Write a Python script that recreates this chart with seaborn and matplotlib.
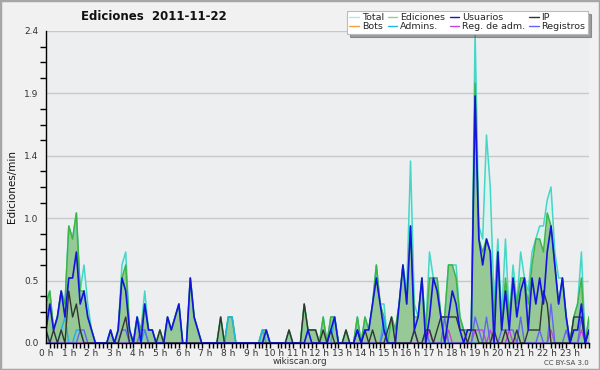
import numpy as np
import pandas as pd
import matplotlib
matplotlib.use("Agg")
import matplotlib.pyplot as plt
import seaborn as sns
from matplotlib.ticker import FixedLocator, MultipleLocator, FuncFormatter
from matplotlib.lines import Line2D
from matplotlib.patches import Rectangle

# ---- data: edits per minute, one value per 10-minute slot (144 slots) ----
hour_labels = [f"{h} h" for h in range(24)]

total = [
    0.3, 0.4, 0.1, 0.2, 0.4, 0.3,   # 0h
    0.9, 0.8, 1.0, 0.4, 0.6, 0.3,   # 1h
    0.1, 0, 0, 0, 0, 0.1,           # 2h
    0, 0.1, 0.6, 0.7, 0.1, 0,       # 3h
    0.2, 0.1, 0.4, 0.1, 0.1, 0,     # 4h
    0.1, 0, 0.2, 0.1, 0.2, 0.3,     # 5h
    0, 0, 0.5, 0.2, 0.1, 0,         # 6h
    0, 0, 0, 0, 0.2, 0,             # 7h
    0.2, 0.2, 0, 0, 0, 0,           # 8h
    0, 0, 0, 0.1, 0.1, 0,           # 9h
    0, 0, 0, 0, 0.1, 0,             # 10h
    0, 0, 0.3, 0.1, 0.1, 0.1,       # 11h
    0, 0.2, 0, 0.2, 0.2, 0,         # 12h
    0, 0.1, 0, 0, 0.2, 0,           # 13h
    0.2, 0.1, 0.3, 0.6, 0.3, 0.3,   # 14h
    0, 0.2, 0.1, 0.3, 0.6, 0.4,     # 15h
    1.4, 0.3, 0.2, 0.5, 0.1, 0.7,   # 16h
    0.5, 0.5, 0.2, 0.2, 0.6, 0.6,   # 17h
    0.6, 0.2, 0.1, 0.1, 0.1, 2.4,   # 18h
    0.9, 0.8, 1.6, 1.2, 0.3, 0.8,   # 19h
    0.2, 0.8, 0.2, 0.6, 0.3, 0.7,   # 20h
    0.5, 0.4, 0.7, 0.8, 0.9, 0.9,   # 21h
    1.1, 1.2, 0.7, 0.5, 0.5, 0.2,   # 22h
    0, 0.2, 0.3, 0.7, 0, 0.2,       # 23h
]

ediciones = [
    0.3, 0.4, 0.1, 0.2, 0.4, 0.3,
    0.9, 0.8, 1.0, 0.4, 0.4, 0.2,
    0.1, 0, 0, 0, 0, 0.1,
    0, 0.1, 0.5, 0.6, 0.1, 0,
    0.2, 0.1, 0.3, 0.1, 0.1, 0,
    0.1, 0, 0.2, 0.1, 0.2, 0.3,
    0, 0, 0.5, 0.2, 0.1, 0,
    0, 0, 0, 0, 0.2, 0,
    0.2, 0.2, 0, 0, 0, 0,
    0, 0, 0, 0.1, 0.1, 0,
    0, 0, 0, 0, 0.1, 0,
    0, 0, 0.3, 0.1, 0.1, 0.1,
    0, 0.2, 0, 0.2, 0.2, 0,
    0, 0.1, 0, 0, 0.2, 0,
    0.2, 0.1, 0.3, 0.6, 0.3, 0.2,
    0, 0.2, 0.1, 0.3, 0.6, 0.3,
    0.9, 0.2, 0.2, 0.5, 0.1, 0.5,
    0.5, 0.5, 0.2, 0.2, 0.6, 0.6,
    0.5, 0.2, 0.1, 0.1, 0.1, 2.0,
    0.8, 0.7, 0.8, 0.7, 0.2, 0.7,
    0.1, 0.5, 0.2, 0.5, 0.3, 0.5,
    0.5, 0.3, 0.6, 0.8, 0.8, 0.7,
    1.0, 0.9, 0.6, 0.3, 0.5, 0.2,
    0, 0.2, 0.3, 0.5, 0, 0.2,
]

usuarios = [
    0.1, 0.3, 0.1, 0.2, 0.4, 0.2,
    0.5, 0.5, 0.7, 0.3, 0.4, 0.2,
    0.1, 0, 0, 0, 0, 0.1,
    0, 0.1, 0.5, 0.4, 0.1, 0,
    0.2, 0, 0.3, 0.1, 0.1, 0,
    0, 0, 0.2, 0.1, 0.2, 0.3,
    0, 0, 0.5, 0.2, 0.1, 0,
    0, 0, 0, 0, 0, 0,
    0, 0, 0, 0, 0, 0,
    0, 0, 0, 0, 0.1, 0,
    0, 0, 0, 0, 0, 0,
    0, 0, 0, 0.1, 0, 0,
    0, 0, 0, 0.1, 0.2, 0,
    0, 0, 0, 0, 0.1, 0,
    0.1, 0.1, 0.3, 0.5, 0.3, 0.1,
    0, 0, 0, 0.3, 0.6, 0.3,
    0.9, 0.1, 0.2, 0.5, 0, 0.2,
    0.5, 0.4, 0.2, 0, 0.2, 0.4,
    0.3, 0.1, 0, 0.1, 0.1, 1.9,
    0.8, 0.6, 0.8, 0.7, 0, 0.7,
    0.1, 0.4, 0.1, 0.5, 0.2, 0.4,
    0.5, 0.1, 0.5, 0.3, 0.5, 0.3,
    0.7, 0.9, 0.6, 0.3, 0.5, 0.2,
    0, 0.1, 0.1, 0.3, 0, 0.1,
]

ip = [
    0.1, 0, 0.1, 0, 0.1, 0,
    0.4, 0.2, 0.3, 0.1, 0, 0,
    0, 0, 0, 0, 0, 0,
    0, 0, 0.1, 0.2, 0, 0,
    0, 0, 0, 0, 0, 0,
    0.1, 0, 0, 0, 0, 0,
    0, 0, 0, 0, 0, 0,
    0, 0, 0, 0, 0.2, 0,
    0, 0, 0, 0, 0, 0,
    0, 0, 0, 0, 0, 0,
    0, 0, 0, 0, 0.1, 0,
    0, 0, 0.3, 0.1, 0.1, 0.1,
    0, 0.1, 0, 0.1, 0, 0,
    0, 0.1, 0, 0, 0.1, 0,
    0.1, 0, 0.1, 0, 0, 0,
    0.1, 0.2, 0, 0, 0, 0,
    0, 0.1, 0, 0, 0.1, 0.1,
    0, 0.1, 0.2, 0.2, 0.2, 0.2,
    0.2, 0.1, 0.1, 0, 0.1, 0.1,
    0, 0, 0, 0, 0.1, 0,
    0, 0.1, 0, 0, 0.1, 0,
    0, 0.1, 0.1, 0.1, 0.1, 0.4,
    0.3, 0, 0, 0, 0, 0,
    0, 0.2, 0.2, 0.2, 0, 0.1,
]

registros = [
    0, 0, 0, 0, 0, 0,
    0, 0, 0, 0.1, 0.1, 0,
    0, 0, 0, 0, 0, 0,
    0, 0, 0.1, 0.1, 0, 0,
    0, 0.1, 0.1, 0, 0, 0,
    0, 0, 0, 0, 0, 0,
    0, 0, 0, 0, 0, 0,
    0, 0, 0, 0, 0, 0,
    0, 0, 0, 0, 0, 0,
    0, 0, 0, 0, 0, 0,
    0, 0, 0, 0, 0, 0,
    0, 0, 0, 0, 0, 0,
    0, 0, 0, 0, 0, 0,
    0, 0, 0, 0, 0, 0,
    0, 0, 0, 0, 0, 0.1,
    0, 0, 0, 0, 0, 0,
    0, 0.1, 0, 0, 0.1, 0,
    0, 0, 0, 0.2, 0, 0,
    0, 0, 0, 0, 0, 0.2,
    0.1, 0, 0.2, 0, 0, 0,
    0.1, 0.1, 0.1, 0.1, 0, 0.2,
    0, 0, 0, 0, 0.1, 0,
    0, 0.3, 0, 0, 0, 0.1,
    0, 0, 0, 0.2, 0, 0,
]

reg_adm = [
    0, 0, 0, 0, 0, 0,
    0, 0, 0, 0, 0, 0,
    0, 0, 0, 0, 0, 0,
    0, 0, 0, 0, 0, 0,
    0, 0, 0, 0, 0, 0,
    0, 0, 0, 0, 0, 0,
    0, 0, 0, 0, 0, 0,
    0, 0, 0, 0, 0, 0,
    0, 0, 0, 0, 0, 0,
    0, 0, 0, 0, 0, 0,
    0, 0, 0, 0, 0, 0,
    0, 0, 0, 0, 0, 0,
    0, 0, 0, 0, 0, 0,
    0, 0, 0, 0, 0, 0,
    0, 0, 0, 0, 0, 0,
    0, 0, 0, 0, 0, 0,
    0, 0, 0, 0, 0, 0.1,
    0, 0, 0, 0, 0.1, 0,
    0, 0, 0, 0, 0, 0.1,
    0.1, 0.1, 0, 0.1, 0, 0,
    0, 0, 0.1, 0, 0, 0,
    0, 0, 0, 0, 0, 0,
    0, 0.1, 0, 0, 0, 0,
    0, 0, 0, 0.1, 0, 0,
]

admins = [
    0.1, 0, 0, 0, 0.1, 0.2,
    0, 0, 0.1, 0.1, 0, 0,
    0, 0, 0, 0, 0, 0,
    0, 0, 0, 0, 0, 0,
    0, 0, 0.1, 0, 0, 0,
    0, 0, 0, 0, 0, 0,
    0, 0, 0, 0, 0, 0,
    0, 0, 0, 0, 0, 0,
    0.2, 0.2, 0, 0, 0, 0,
    0, 0, 0, 0.1, 0, 0,
    0, 0, 0, 0, 0, 0,
    0, 0, 0, 0, 0, 0,
    0, 0, 0, 0, 0.2, 0,
    0, 0, 0, 0, 0.1, 0,
    0, 0, 0, 0, 0, 0.2,
    0, 0, 0, 0, 0, 0,
    0, 0, 0, 0, 0, 0,
    0, 0, 0, 0, 0, 0,
    0, 0, 0, 0, 0, 0,
    0, 0, 0, 0, 0, 0,
    0, 0, 0, 0, 0, 0,
    0, 0, 0, 0, 0, 0,
    0, 0, 0, 0, 0, 0,
    0, 0, 0, 0, 0, 0,
]

bots = [0] * 144

series_names = ["Total", "Bots", "Ediciones", "Admins.", "Usuarios",
                "Reg. de adm.", "IP", "Registros"]

df = pd.DataFrame({
    "slot": np.arange(len(total)),
    "Total": total, "Ediciones": ediciones, "Usuarios": usuarios,
    "IP": ip, "Registros": registros, "Reg. de adm.": reg_adm,
    "Admins.": admins, "Bots": bots,
})

colors = {
    "Total": "#45d6c8", "Ediciones": "#3fb446", "Usuarios": "#1414dc",
    "IP": "#333333", "Registros": "#6464f5", "Reg. de adm.": "#c444e0",
    "Admins.": "#22b4e4", "Bots": "#f4a040",
}
legend_colors = dict(colors)
legend_colors["Total"] = "#b4e8e6"
legend_colors["Ediciones"] = "#8fd08f"

# ---- figure ----
sns.set_theme(style="white")
plt.rcParams["font.family"] = ["DejaVu Sans"]

fig = plt.figure(figsize=(6, 3.7), dpi=100, facecolor="#f1f1f1")
ax = fig.add_axes([46 / 600, 27 / 370, 543 / 600, 312 / 370])
ax.set_facecolor("#edeef0")

# fills
ax.fill_between(df["slot"], df["Total"], color="#daf3ee", lw=0, zorder=1)
ax.fill_between(df["slot"], df["Ediciones"], color="#96c996", lw=0, zorder=2)

draw_order = [("Total", 1.1), ("Ediciones", 1.1), ("Bots", 1.0),
              ("Admins.", 1.1), ("Reg. de adm.", 1.0), ("Registros", 1.0),
              ("IP", 1.0), ("Usuarios", 1.2)]
for k, (name, lw) in enumerate(draw_order):
    sns.lineplot(data=df, x="slot", y=name, color=colors[name], lw=lw,
                 ax=ax, zorder=3 + k, legend=False)

ax.set_xlim(0, 143)
ax.set_ylim(0, 2.4)
ax.set_xlabel("")
ax.set_ylabel("Ediciones/min", fontsize=7.5, color="#111111", labelpad=5)

ymaj = [0, 0.48, 0.96, 1.44, 1.92, 2.4]
ax.yaxis.set_major_locator(FixedLocator(ymaj))
ax.yaxis.set_major_formatter(FuncFormatter(lambda v, p: f"{v:.1f}"))
ax.yaxis.set_minor_locator(MultipleLocator(0.12))
ax.xaxis.set_major_locator(FixedLocator(np.arange(0, 144, 6)))
ax.set_xticklabels(hour_labels)
ax.xaxis.set_minor_locator(MultipleLocator(1))

ax.tick_params(axis="both", which="both", direction="out", color="black",
               width=1, labelsize=6.5, labelcolor="#333333", pad=0.5)
ax.tick_params(axis="y", which="major", length=5)
ax.tick_params(axis="y", which="minor", length=4, left=True)
ax.tick_params(axis="x", which="major", length=3.5)
ax.tick_params(axis="x", which="minor", length=3.5, bottom=True)

ax.grid(axis="y", which="major", color="#c8c8c8", lw=1, zorder=0)
ax.set_axisbelow(True)
for s in ["top", "right"]:
    ax.spines[s].set_visible(False)
for s in ["left", "bottom"]:
    ax.spines[s].set_color("black")
    ax.spines[s].set_linewidth(1)
    ax.spines[s].set_zorder(20)

# legend
handles = [Line2D([0], [0], color=legend_colors[n], lw=1) for n in series_names]
leg = fig.legend(handles, series_names, loc="upper left",
                 bbox_to_anchor=(347 / 600, 1 - 11 / 370), ncol=4,
                 fontsize=6.8, frameon=True, fancybox=False, shadow=True,
                 handlelength=1.0, handletextpad=0.3, columnspacing=0.45,
                 labelspacing=0.0, borderpad=0.25, borderaxespad=0)
leg.get_frame().set_facecolor("white")
leg.get_frame().set_edgecolor("#bbbbbb")
leg.get_frame().set_linewidth(0.8)
leg.set_zorder(50)

# texts
fig.text(154 / 600, 1 - 17 / 370, "Ediciones  2011-11-22", ha="center",
         va="center", fontsize=8.5, fontweight="bold", color="#111111")
fig.text(0.5, 1 - 362 / 370, "wikiscan.org", ha="center", va="center",
         fontsize=6.3, color="#333333")
fig.text(589 / 600, 1 - 363 / 370, "CC BY-SA 3.0", ha="right", va="center",
         fontsize=5, color="#444444")

fig.patches.append(Rectangle((0, 0), 1, 1, transform=fig.transFigure,
                             fill=False, edgecolor="#a6a6a6", lw=2.5))

fig.savefig("out.png", dpi=100, facecolor=fig.get_facecolor())
